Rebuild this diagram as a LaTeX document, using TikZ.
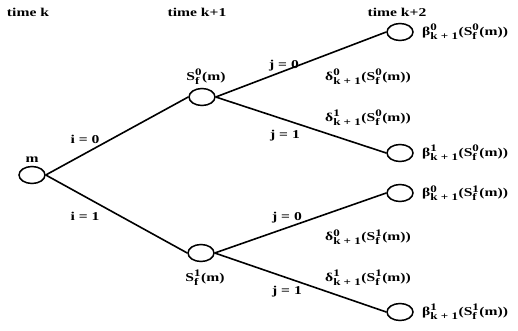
\documentclass[tikz,border=0pt]{standalone}
\usepackage{fontspec}
\setmainfont{Liberation Serif}[FakeStretch=1.3]
\usetikzlibrary{shapes.geometric}
\newcommand\scr[1]{\hbox{\fontsize{10}{10}\selectfont\bfseries #1}}
\newcommand\sbs[3]{#1$^{\scr{#2}}_{\scr{#3}}$}
\begin{document}
\begin{tikzpicture}[x=1pt,y=-1pt,
  st/.style={draw,ellipse,line width=1.5pt,minimum width=26pt,minimum height=17pt,inner sep=0pt},
  edge/.style={line width=1.6pt},
  lab/.style={font=\fontsize{12}{13}\selectfont\bfseries,inner sep=0pt}]
\useasboundingbox (0,0) rectangle (518,331);
\node[lab] (tk) at (28,12) {time k};
\node[lab] (tk1) at (197,12) {time k+1};
\node[lab] (tk2) at (397,12) {time k+2};
\node[st] (m) at (32,175) {};
\node[st] (s0) at (202,97) {};
\node[st] (s1) at (201,253) {};
\node[st] (l00) at (400,32) {};
\node[st] (l01) at (400,153) {};
\node[st] (l10) at (400,193) {};
\node[st] (l11) at (400,312) {};
\draw[edge] (m.east) -- (s0.west);
\draw[edge] (m.east) -- (s1.west);
\draw[edge] (s0.east) -- (l00.west);
\draw[edge] (s0.east) -- (l01.west);
\draw[edge] (s1.east) -- (l10.west);
\draw[edge] (s1.east) -- (l11.west);
\node[lab] (ml) at (32,160) {m};
\node[lab] (s0l) at (206,77) {\sbs{S}{0}{f}(m)};
\node[lab] (s1l) at (205,278) {\sbs{S}{1}{f}(m)};
\node[lab] (i0) at (85,139) {i = 0};
\node[lab] (i1) at (85,216) {i = 1};
\node[lab] (j00) at (284,66) {j = 0};
\node[lab] (j01) at (285,136) {j = 1};
\node[lab] (j10) at (287,218) {j = 0};
\node[lab] (j11) at (287,292) {j = 1};
\node[lab] (d00) at (368,77) {\sbs{δ}{0}{k + 1}(\sbs{S}{0}{f}(m))};
\node[lab] (d01) at (368,118) {\sbs{δ}{1}{k + 1}(\sbs{S}{0}{f}(m))};
\node[lab] (d10) at (368,237) {\sbs{δ}{0}{k + 1}(\sbs{S}{1}{f}(m))};
\node[lab] (d11) at (368,278) {\sbs{δ}{1}{k + 1}(\sbs{S}{1}{f}(m))};
\node[lab,anchor=west] (b00) at (422,32) {\sbs{β}{0}{k + 1}(\sbs{S}{0}{f}(m))};
\node[lab,anchor=west] (b01) at (422,153) {\sbs{β}{1}{k + 1}(\sbs{S}{0}{f}(m))};
\node[lab,anchor=west] (b10) at (422,193) {\sbs{β}{0}{k + 1}(\sbs{S}{1}{f}(m))};
\node[lab,anchor=west] (b11) at (422,312) {\sbs{β}{1}{k + 1}(\sbs{S}{1}{f}(m))};
\end{tikzpicture}
\end{document}
